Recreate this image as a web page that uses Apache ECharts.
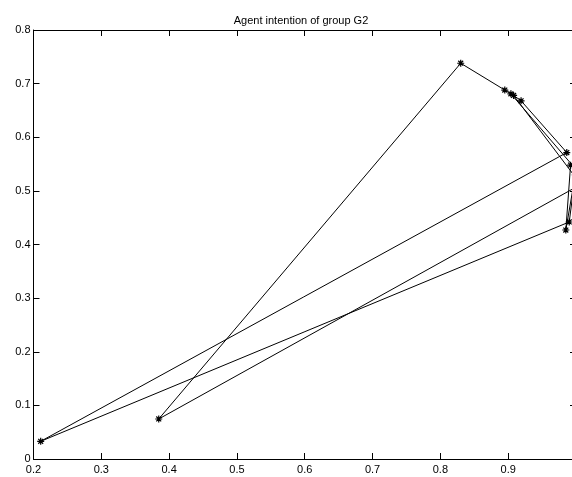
<!DOCTYPE html>
<html>
<head>
<meta charset="utf-8">
<script src="https://cdn.jsdelivr.net/npm/echarts@6/dist/echarts.min.js"></script>
<style>
  html, body { margin: 0; padding: 0; background: #fff; }
  #chart { width: 572px; height: 477px; }
</style>
</head>
<body>
<div id="chart"></div>
<script>
// Path of the agent intention (in plotting order)
const xValues = [0.992, 0.985, 0.999, 0.990, 0.2106, 0.9864, 0.919, 0.908, 1.0, 1.0, 0.904, 0.895, 0.830, 0.3847, 1.0];
const yValues = [0.548, 0.427, 0.530, 0.442, 0.033, 0.5715, 0.668, 0.678, 0.524, 0.540, 0.681, 0.688, 0.738, 0.0746, 0.507];

const titleText = 'Agent intention of group G2';
const xMin = 0.2, xMax = 1.0, xStep = 0.1;
const yMin = 0, yMax = 0.8, yStep = 0.1;

const points = xValues.map((x, i) => [x, yValues[i]]);

const asterisk = 'path://M0,4 L8,4 M4,0 L4,8 M1.2,1.2 L6.8,6.8 M1.2,6.8 L6.8,1.2';
const font = 'Arial, "Liberation Sans", Helvetica, sans-serif';

const fmt = v => {
  const r = Math.round(v * 10) / 10;
  return r === 0 ? '0' : String(r);
};

const baseX = {
  type: 'value', min: xMin, max: xMax, interval: xStep,
  axisLine: { show: true, onZero: false, lineStyle: { color: '#000', width: 1 } },
  axisTick: { show: true, inside: true, length: 6, lineStyle: { color: '#000' } },
  splitLine: { show: false }
};
const baseY = {
  type: 'value', min: yMin, max: yMax, interval: yStep,
  axisLine: { show: true, onZero: false, lineStyle: { color: '#000', width: 1 } },
  axisTick: { show: true, inside: true, length: 6, lineStyle: { color: '#000' } },
  splitLine: { show: false }
};

const chart = echarts.init(document.getElementById('chart'), null, { renderer: 'canvas' });
chart.setOption({
  backgroundColor: '#fff',
  animation: false,
  title: {
    text: titleText,
    left: 296, top: 10, textAlign: 'center',
    textStyle: { fontFamily: font, fontSize: 11, fontWeight: 'normal', color: '#000' }
  },
  grid: { left: 33.5, right: -4, top: 30, bottom: 18, containLabel: false, outerBoundsMode: 'none' },
  xAxis: [
    Object.assign({}, baseX, {
      position: 'bottom',
      axisLabel: { show: true, margin: 5, fontFamily: font, fontSize: 11, color: '#000', formatter: fmt }
    }),
    Object.assign({}, baseX, { position: 'top', axisLabel: { show: false } })
  ],
  yAxis: [
    Object.assign({}, baseY, {
      position: 'left',
      axisLabel: { show: true, margin: 3, fontFamily: font, fontSize: 11, color: '#000', formatter: fmt }
    }),
    Object.assign({}, baseY, { position: 'right', axisLabel: { show: false } })
  ],
  series: [{
    type: 'line',
    xAxisIndex: 0, yAxisIndex: 0,
    data: points,
    showAllSymbol: true,
    symbol: asterisk,
    symbolSize: 7,
    lineStyle: { color: '#000', width: 1 },
    itemStyle: { color: 'rgba(0,0,0,0)', borderColor: '#000', borderWidth: 1.2 },
    emphasis: { disabled: true },
    clip: true
  }]
});
</script>
</body>
</html>
